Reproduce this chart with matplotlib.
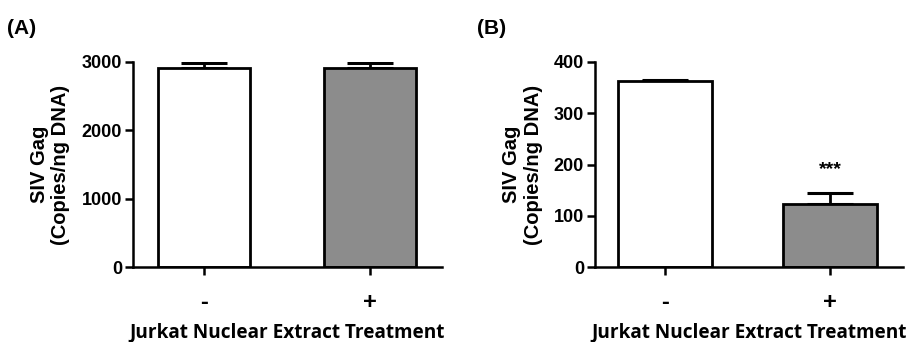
import matplotlib
matplotlib.use("Agg")
import matplotlib.pyplot as plt

categories = ["-", "+"]
means_a = [2910, 2910]
errs_a = [70, 70]
means_b = [362, 123]
errs_b = [3, 21]
yticks_a = [0, 1000, 2000, 3000]
yticks_b = [0, 100, 200, 300, 400]
bar_colors = ["white", "#8c8c8c"]
ylabel = "SIV Gag\n(Copies/ng DNA)"
xlabel = "Jurkat Nuclear Extract Treatment"

fig = plt.figure(figsize=(9.08, 3.42), dpi=100)
axA = fig.add_axes([133/908, 75/342, 309/908, 205/342])
axB = fig.add_axes([595/908, 75/342, 308/908, 205/342])

def style(ax, means, errs, yticks, xlim, width):
    x = list(range(len(means)))
    ax.bar(x, means, width=width, color=bar_colors, edgecolor="black", linewidth=2.0, zorder=2)
    ax.errorbar(x, means, yerr=[[0]*len(errs), errs], fmt="none", ecolor="black",
                elinewidth=2.0, capsize=16.5, capthick=2.2, zorder=1)
    ax.set_xlim(*xlim)
    ax.set_ylim(0, yticks[-1])
    ax.set_yticks(yticks)
    ax.set_xticks(x)
    ax.set_xticklabels(categories, fontsize=17, fontweight="bold", family="Liberation Sans")
    for lab in ax.get_yticklabels():
        lab.set_fontsize(13)
        lab.set_fontweight("bold")
        lab.set_family("Liberation Sans")
    for s in ["top", "right"]:
        ax.spines[s].set_visible(False)
    for s in ["left", "bottom"]:
        ax.spines[s].set_linewidth(1.8)
    ax.tick_params(axis="y", length=6, width=1.8, pad=2, direction="out")
    ax.tick_params(axis="x", length=6, width=1.8, pad=11, direction="out")
    ax.set_ylabel(ylabel, fontsize=14.5, fontweight="bold", family="Liberation Sans",
                  labelpad=8, linespacing=1.15)
    bb = ax.get_position()
    fig.text((bb.x0 + bb.x1) / 2, 5/342, xlabel, fontsize=13.7, fontweight="bold",
             family="Open Sans", ha="center", va="baseline")

style(axA, means_a, errs_a, yticks_a, (-0.428, 1.434), 0.554)
style(axB, means_b, errs_b, yticks_b, (-0.424, 1.442), 0.57)

axB.text(1, 181, "***", ha="center", va="baseline",
         fontsize=14, fontweight="bold", family="Liberation Sans")

fig.text(7/908, 1 - 29/342, "(A)", fontsize=15, fontweight="bold",
         family="Liberation Sans", va="center", ha="left")
fig.text(477/908, 1 - 29/342, "(B)", fontsize=15, fontweight="bold",
         family="Liberation Sans", va="center", ha="left")

fig.savefig("out.png", dpi=100)
